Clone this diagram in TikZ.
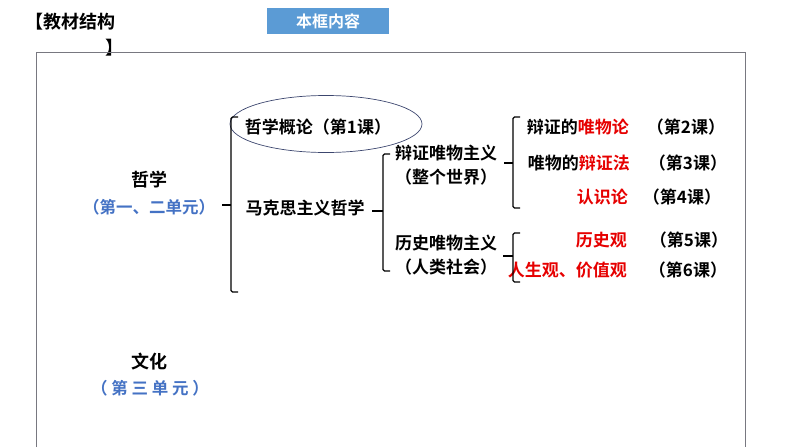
\documentclass[tikz,border=0pt]{standalone}
\usepackage{fontspec}
\setmainfont{Noto Sans CJK SC}[BoldFont={Noto Sans CJK SC Bold}]
\usetikzlibrary{shapes.geometric}
\definecolor{boxblue}{RGB}{91,155,213}
\definecolor{unitblue}{RGB}{68,114,196}
\definecolor{keyred}{RGB}{230,0,0}
\definecolor{framegray}{RGB}{120,120,128}
\definecolor{ringblue}{RGB}{60,70,110}

\begin{document}
\begin{tikzpicture}[
        x=1pt, y=-1pt,
        every node/.style={inner sep=0pt, font=\bfseries\fontsize{17}{19}\selectfont},
        title/.style={font=\bfseries\fontsize{18}{20}\selectfont},
        unit/.style={text=unitblue, font=\bfseries\fontsize{16.5}{18}\selectfont},
        brace/.style={line width=1.2pt, rounded corners=1.5pt}
    ]
        \useasboundingbox (0,0) rectangle (794,447);

        % header and frame
        \node[title, anchor=west] (jiaocai) at (25,22) {【教材结构};
        \node[title] (jiaocai_end) at (114,48) {】};
        \node[fill=boxblue, text=white, minimum width=122pt, minimum height=26pt,
              font=\bfseries\fontsize{16}{18}\selectfont] (kuang) at (328,21) {本框内容};
        \draw[framegray, line width=1pt] (36,447) -- (36,52) -- (745,52) -- (745,447);

        % units
        \node[title] (zhexue) at (149,180) {哲学};
        \node[unit] (zhexue_unit) at (149,207) {（第一、二单元）};
        \node[title] (wenhua) at (149,362) {文化};
        \node[unit] (wenhua_unit) at (150,388) {（ 第 三 单 元 ）};

        % second level
        \node (gailun) at (318,127) {哲学概论（第1课）};
        \node[draw=ringblue, line width=0.7pt, ellipse, minimum width=192pt, minimum height=57pt] (gailun_ring) at (326,124) {};
        \node (makesi) at (305,208) {马克思主义哲学};
        \node (bianzheng) at (446,153) {辩证唯物主义};
        \node (bianzheng_note) at (446,177) {（整个世界）};
        \node (lishi) at (446,243) {历史唯物主义};
        \node (lishi_note) at (446,267) {（人类社会）};

        % lessons
        \node[anchor=east] (weiwulun) at (629,127) {辩证的\textcolor{keyred}{唯物论}};
        \node[anchor=east] (bianzhengfa) at (630,163) {唯物的\textcolor{keyred}{辩证法}};
        \node[anchor=east, text=keyred] (renshilun) at (628,197) {认识论};
        \node[anchor=east, text=keyred] (lishiguan) at (627,240) {历史观};
        \node[anchor=east, text=keyred] (renshengguan) at (627,270) {人生观、价值观};
        \node (ke2) at (686,127) {（第2课）};
        \node (ke3) at (688,163) {（第3课）};
        \node (ke4) at (682,197) {（第4课）};
        \node (ke5) at (689,240) {（第5课）};
        \node (ke6) at (688,270) {（第6课）};

        % brackets
        \coordinate (b1t) at (231,117);
        \coordinate (b1b) at (231,292);
        \coordinate (b1m) at (222,205);
        \draw[brace] ([xshift=7pt]b1t) -- (b1t) -- (b1b) -- ([xshift=7pt]b1b);
        \draw[brace] (b1m) -- (b1m -| b1t);

        \coordinate (b2t) at (383,154);
        \coordinate (b2b) at (383,271);
        \coordinate (b2m) at (372,211);
        \draw[brace] ([xshift=7pt]b2t) -- (b2t) -- (b2b) -- ([xshift=7pt]b2b);
        \draw[brace] (b2m) -- (b2m -| b2t);

        \coordinate (b3t) at (513,117);
        \coordinate (b3b) at (513,208);
        \coordinate (b3m) at (504,163);
        \draw[brace] ([xshift=7pt]b3t) -- (b3t) -- (b3b) -- ([xshift=7pt]b3b);
        \draw[brace] (b3m) -- (b3m -| b3t);

        \coordinate (b4t) at (513,233);
        \coordinate (b4b) at (513,282);
        \coordinate (b4m) at (503,256);
        \draw[brace] ([xshift=7pt]b4t) -- (b4t) -- (b4b) -- ([xshift=7pt]b4b);
        \draw[brace] (b4m) -- (b4m -| b4t);
    \end{tikzpicture}
\end{document}
